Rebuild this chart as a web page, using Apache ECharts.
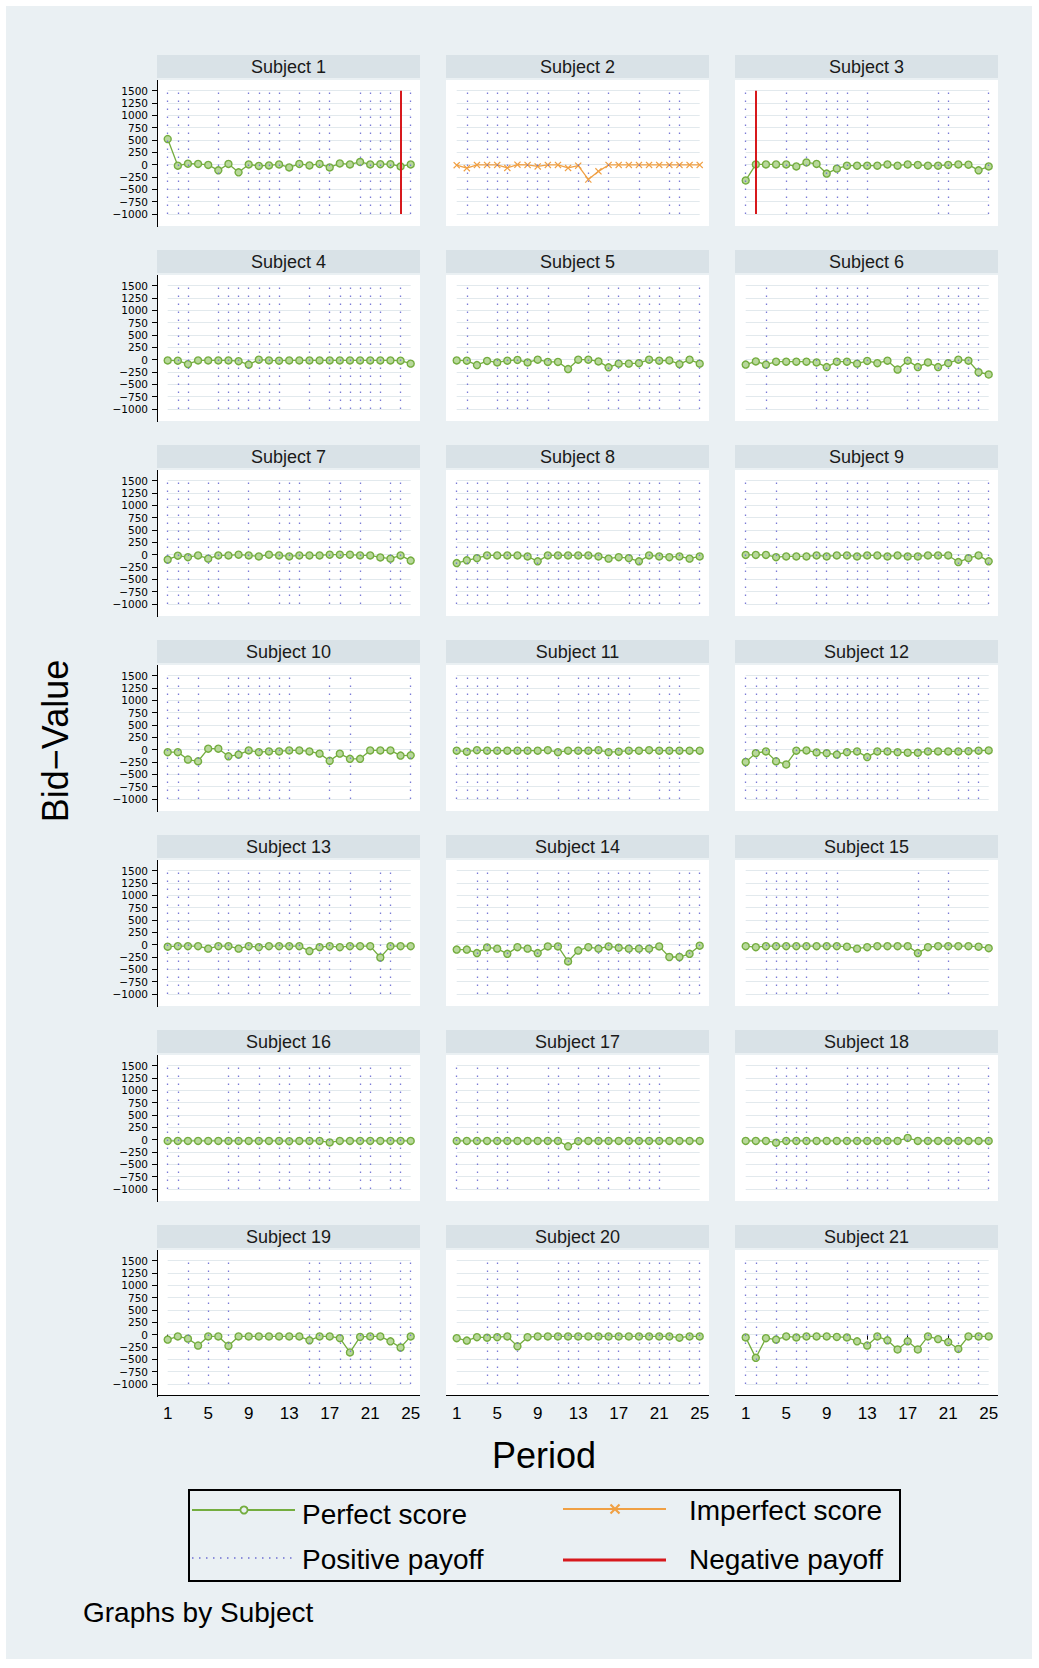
<!DOCTYPE html>
<html><head><meta charset="utf-8">
<script src="https://cdn.jsdelivr.net/npm/echarts@6.0.0/dist/echarts.min.js"></script>
<style>html,body{margin:0;padding:0;background:#fff;}#c{width:1039px;height:1668px;}</style>
</head><body><div id="c"></div>
<script>
const periods = ['1','2','3','4','5','6','7','8','9','10','11','12','13','14','15','16','17','18','19','20','21','22','23','24','25'];
const subjects = ['Subject 1','Subject 2','Subject 3','Subject 4','Subject 5','Subject 6','Subject 7','Subject 8','Subject 9','Subject 10','Subject 11','Subject 12','Subject 13','Subject 14','Subject 15','Subject 16','Subject 17','Subject 18','Subject 19','Subject 20','Subject 21'];
const imperfectSubjects = [2];
const bidValues = [
  [520,-20,20,15,-5,-115,15,-155,5,-25,-15,5,-55,15,-15,15,-55,25,5,55,5,10,10,-35,5],
  [-10,-70,-5,-5,-5,-65,0,-5,-35,-5,-5,-65,-20,-300,-135,-5,-5,-5,-5,-5,-5,-5,-5,-5,-5],
  [-320,5,5,5,5,-35,45,15,-180,-80,-20,-20,-20,-20,5,-20,5,-5,-20,-20,-5,5,0,-115,-35],
  [-15,-20,-90,-15,-15,-15,-15,-30,-100,0,-15,-20,-15,-15,-15,-15,-15,-15,-15,-15,-15,-15,-15,-20,-80],
  [-15,-20,-110,-25,-55,-20,-5,-55,0,-45,-45,-190,0,0,-35,-155,-80,-80,-70,0,-20,-15,-90,0,-80],
  [-100,-35,-100,-40,-40,-40,-40,-55,-150,-40,-40,-80,-25,-70,-20,-200,-20,-150,-55,-150,-70,0,-20,-255,-300],
  [-100,-20,-50,-15,-80,-15,-15,0,-15,-35,0,-15,-35,-15,-15,-15,0,0,0,-15,-15,-55,-80,-15,-120],
  [-170,-115,-70,-15,-15,-15,-15,-35,-135,-15,-15,-15,-15,-15,-35,-80,-50,-70,-135,-15,-35,-50,-35,-80,-35],
  [-5,-5,-5,-50,-35,-35,-35,-15,-35,-15,-15,-35,-15,-15,-35,-15,-35,-35,-15,-15,-15,-150,-70,-15,-135],
  [-50,-50,-200,-235,20,20,-135,-100,-15,-50,-35,-35,-15,-15,-35,-80,-225,-80,-185,-185,-15,-15,-15,-120,-115],
  [-20,-40,-10,-20,-20,-20,-20,-20,-20,-10,-50,-20,-20,-20,-10,-50,-40,-20,-20,-10,-20,-20,-20,-20,-20],
  [-250,-70,-35,-235,-300,-20,-15,-55,-70,-100,-50,-35,-150,-35,-35,-50,-60,-60,-35,-35,-35,-35,-30,-20,-15],
  [-40,-30,-30,-30,-80,-30,-30,-80,-30,-50,-30,-30,-30,-30,-130,-50,-30,-50,-30,-30,-30,-260,-30,-30,-30],
  [-100,-100,-170,-55,-80,-185,-50,-80,-170,-35,-35,-340,-120,-50,-80,-35,-60,-80,-80,-80,-35,-250,-250,-185,-20],
  [-30,-50,-30,-30,-30,-30,-30,-30,-30,-30,-40,-80,-50,-30,-30,-30,-30,-170,-50,-30,-30,-30,-30,-40,-70],
  [-25,-25,-25,-25,-25,-25,-25,-25,-25,-25,-25,-25,-30,-25,-25,-25,-55,-25,-25,-25,-25,-25,-25,-25,-25],
  [-25,-25,-25,-25,-25,-25,-25,-25,-25,-25,-25,-135,-30,-25,-25,-25,-25,-25,-25,-25,-25,-25,-25,-25,-25],
  [-25,-25,-25,-60,-25,-25,-25,-25,-25,-25,-25,-25,-25,-25,-25,-25,35,-25,-25,-25,-25,-25,-25,-25,-25],
  [-100,-35,-80,-220,-35,-35,-225,-35,-35,-35,-35,-35,-35,-35,-115,-35,-35,-70,-360,-45,-35,-35,-135,-260,-35],
  [-70,-120,-50,-60,-50,-35,-235,-50,-35,-35,-35,-35,-35,-35,-35,-35,-35,-35,-35,-35,-35,-35,-60,-35,-35],
  [-55,-470,-70,-100,-35,-55,-35,-35,-35,-45,-55,-135,-220,-35,-115,-300,-135,-300,-35,-90,-150,-290,-35,-35,-35]
];
const positivePeriods = [
  [1,2,3,6,9,10,11,12,14,16,17,20,21,22,23,25],
  [2,4,5,6,8,9,10,13,14,16,19,22,23],
  [1,5,7,9,10,11,13,20,21,25],
  [2,3,6,7,8,9,10,11,12,15,17,18,19,20,21,22,24],
  [2,5,6,7,8,10,14,16,17,19,20,21,23,25],
  [3,8,9,10,11,12,13,17,18,20,21,22,23,24],
  [1,2,3,5,6,9,12,13,14,17,18,20,23,24],
  [1,2,3,4,6,8,9,10,11,12,13,14,15,18,19,20,21,23,25],
  [1,4,8,9,11,12,13,15,17,18,20,22,23,25],
  [1,2,4,7,8,9,10,11,12,13,17,19,25],
  [1,2,3,4,5,7,8,11,13,14,15,16,17,18,21,22,23],
  [1,2,3,4,6,8,9,10,11,12,13,14,15,16,18,19,22,23,24],
  [1,2,3,6,7,9,10,12,13,14,16,17,19,22,23],
  [3,4,6,9,11,12,15,16,17,18,19,20,23,24,25],
  [3,4,5,6,7,9,10,18,21],
  [1,2,7,8,10,12,13,15,16,17,20,21,23,24],
  [1,3,5,6,10,11,13,15,16,18,19,20,21],
  [4,5,6,7,11,12,13,14,15,17,19,21,22,25],
  [3,5,7,15,16,18,19,20,21,24,25],
  [4,5,7,11,12,13,15,16,17,19,20,21,22,24,25],
  [1,2,4,6,7,11,13,14,15,17,19,21,22,24]
];
const negativePeriods = [[24],[],[2],[],[],[],[],[],[],[],[],[],[],[],[],[],[],[],[],[],[]];
const yMin = -1000, yMax = 1500, yStep = 250;
const xLabelStep = 4;

const FONT = 'Liberation Sans';
const GREEN = '#74ad3f', GREEN_FILL = '#b8d89b', ORANGE = '#f0a044', BLUE = '#6d6dd3', RED = '#d7191c';
const XPATH = 'path://M0,1.2L1.2,0L5,3.8L8.8,0L10,1.2L6.2,5L10,8.8L8.8,10L5,6.2L1.2,10L0,8.8L3.8,5Z';
const colLeft = [157, 446, 735];
const panelW = 263, rowTop = 55, rowPitch = 195;

const chart = echarts.init(document.getElementById('c'), null, {renderer: 'svg', width: 1039, height: 1668});
const grids = [], xAxes = [], yAxes = [], series = [];
const graphics = [
  {type: 'rect', z: -100, silent: true, shape: {x: 6, y: 6, width: 1026, height: 1653}, style: {fill: '#eaf0f3'}}
];
const fmt = v => v < 0 ? '\u2212' + (-v) : String(v);

subjects.forEach((name, i) => {
  const r = Math.floor(i / 3), c = i % 3;
  const L = colLeft[c], top = rowTop + r * rowPitch;
  const bottom = r === 6;
  graphics.push({type: 'rect', z: -90, silent: true, shape: {x: L, y: top, width: panelW, height: 23}, style: {fill: '#d9e2e7'}});
  graphics.push({type: 'rect', z: -90, silent: true, shape: {x: L, y: top + 25, width: panelW, height: 146}, style: {fill: '#ffffff'}});
  graphics.push({type: 'text', z: 10, silent: true, style: {text: name, x: L + panelW / 2, y: top + 12, textAlign: 'center', textVerticalAlign: 'middle', fontSize: 18, fontFamily: FONT, fill: '#1a1a1a'}});
  if (c === 0) graphics.push({type: 'line', z: 10, silent: true, shape: {x1: L + 0.5, y1: top + 25, x2: L + 0.5, y2: top + 172}, style: {stroke: '#000', lineWidth: 1}});
  if (bottom) graphics.push({type: 'line', z: 10, silent: true, shape: {x1: L, y1: top + 170.5, x2: L + panelW, y2: top + 170.5}, style: {stroke: '#000', lineWidth: 1}});

  grids.push({left: L + 10.7, top: top + 35.7, width: 243, height: 123.3});
  xAxes.push({
    gridIndex: i, type: 'category', data: periods, boundaryGap: false, offset: bottom ? 11 : 0,
    axisLine: {show: false},
    axisTick: {show: bottom, interval: xLabelStep - 1, length: 5, lineStyle: {color: '#000', width: 1}},
    axisLabel: {show: bottom, interval: xLabelStep - 1, fontSize: 17, fontFamily: FONT, color: '#000', margin: 10},
    splitLine: {show: false}
  });
  yAxes.push({
    gridIndex: i, type: 'value', min: yMin, max: yMax, interval: yStep, offset: c === 0 ? 10.7 : 0,
    axisLine: {show: false},
    axisTick: {show: c === 0, length: 5, lineStyle: {color: '#000', width: 1}},
    axisLabel: {show: c === 0, showMinLabel: true, showMaxLabel: true, hideOverlap: false,
      fontSize: 10.5, fontFamily: 'DejaVu Sans', color: '#000', margin: 9, formatter: fmt},
    splitLine: {show: true, lineStyle: {color: '#e2e9ed', width: 1}}
  });
  series.push({
    type: 'line', name: 'Positive payoff', xAxisIndex: i, yAxisIndex: i, data: [], z: 1, silent: true,
    markLine: {silent: true, symbol: ['none', 'none'], label: {show: false}, emphasis: {disabled: true},
      lineStyle: {color: BLUE, type: [1.5, 6.5], width: 1.3, opacity: 0.9},
      data: positivePeriods[i].map(p => ({xAxis: String(p)}))}
  });
  if (negativePeriods[i].length) series.push({
    type: 'line', name: 'Negative payoff', xAxisIndex: i, yAxisIndex: i, data: [], z: 2, silent: true,
    markLine: {silent: true, symbol: ['none', 'none'], label: {show: false}, emphasis: {disabled: true},
      lineStyle: {color: RED, type: 'solid', width: 2},
      data: negativePeriods[i].map(p => ({xAxis: String(p)}))}
  });
  const imp = imperfectSubjects.includes(i + 1);
  series.push({
    type: 'line', name: imp ? 'Imperfect score' : 'Perfect score', xAxisIndex: i, yAxisIndex: i,
    data: bidValues[i], z: 4, silent: true, showAllSymbol: true, showSymbol: true,
    symbol: imp ? XPATH : 'circle', symbolSize: 7,
    lineStyle: {color: imp ? ORANGE : GREEN, width: 1.3},
    itemStyle: imp ? {color: ORANGE} : {color: GREEN_FILL, borderColor: GREEN, borderWidth: 1.4}
  });
});

// axis titles and note
graphics.push({type: 'text', silent: true, x: 55, y: 741, rotation: Math.PI / 2,
  style: {text: 'Bid\u2212Value', x: 0, y: 0, textAlign: 'center', textVerticalAlign: 'middle', fontSize: 36, fontFamily: FONT, fill: '#000'}});
graphics.push({type: 'text', silent: true, style: {text: 'Period', x: 544, y: 1455, textAlign: 'center', textVerticalAlign: 'middle', fontSize: 36, fontFamily: FONT, fill: '#000'}});
graphics.push({type: 'text', silent: true, style: {text: 'Graphs by Subject', x: 83, y: 1612, textAlign: 'left', textVerticalAlign: 'middle', fontSize: 28, fontFamily: FONT, fill: '#000'}});

// legend
graphics.push({type: 'rect', silent: true, shape: {x: 189, y: 1490, width: 711, height: 91}, style: {fill: 'none', stroke: '#000', lineWidth: 2}});
graphics.push({type: 'line', silent: true, shape: {x1: 192, y1: 1510, x2: 295, y2: 1510}, style: {stroke: GREEN, lineWidth: 2}});
graphics.push({type: 'circle', silent: true, shape: {cx: 244, cy: 1510, r: 3.6}, style: {fill: '#eaf0f3', stroke: GREEN, lineWidth: 1.8}});
graphics.push({type: 'text', silent: true, style: {text: 'Perfect score', x: 302, y: 1514, textAlign: 'left', textVerticalAlign: 'middle', fontSize: 28, fontFamily: FONT, fill: '#000'}});
graphics.push({type: 'line', silent: true, shape: {x1: 563, y1: 1509, x2: 666, y2: 1509}, style: {stroke: ORANGE, lineWidth: 2}});
graphics.push({type: 'line', silent: true, shape: {x1: 610.5, y1: 1504.5, x2: 619.5, y2: 1513.5}, style: {stroke: ORANGE, lineWidth: 2.2}});
graphics.push({type: 'line', silent: true, shape: {x1: 619.5, y1: 1504.5, x2: 610.5, y2: 1513.5}, style: {stroke: ORANGE, lineWidth: 2.2}});
graphics.push({type: 'text', silent: true, style: {text: 'Imperfect score', x: 689, y: 1510, textAlign: 'left', textVerticalAlign: 'middle', fontSize: 28, fontFamily: FONT, fill: '#000'}});
graphics.push({type: 'line', silent: true, shape: {x1: 192, y1: 1558, x2: 295, y2: 1558}, style: {stroke: BLUE, lineWidth: 1.5, lineDash: [1.5, 5.5]}});
graphics.push({type: 'text', silent: true, style: {text: 'Positive payoff', x: 302, y: 1559, textAlign: 'left', textVerticalAlign: 'middle', fontSize: 28, fontFamily: FONT, fill: '#000'}});
graphics.push({type: 'line', silent: true, shape: {x1: 563, y1: 1560, x2: 666, y2: 1560}, style: {stroke: RED, lineWidth: 3}});
graphics.push({type: 'text', silent: true, style: {text: 'Negative payoff', x: 689, y: 1559, textAlign: 'left', textVerticalAlign: 'middle', fontSize: 28, fontFamily: FONT, fill: '#000'}});

chart.setOption({
  animation: false,
  grid: grids, xAxis: xAxes, yAxis: yAxes, series: series,
  graphic: [{elements: graphics}]
});
</script></body></html>
